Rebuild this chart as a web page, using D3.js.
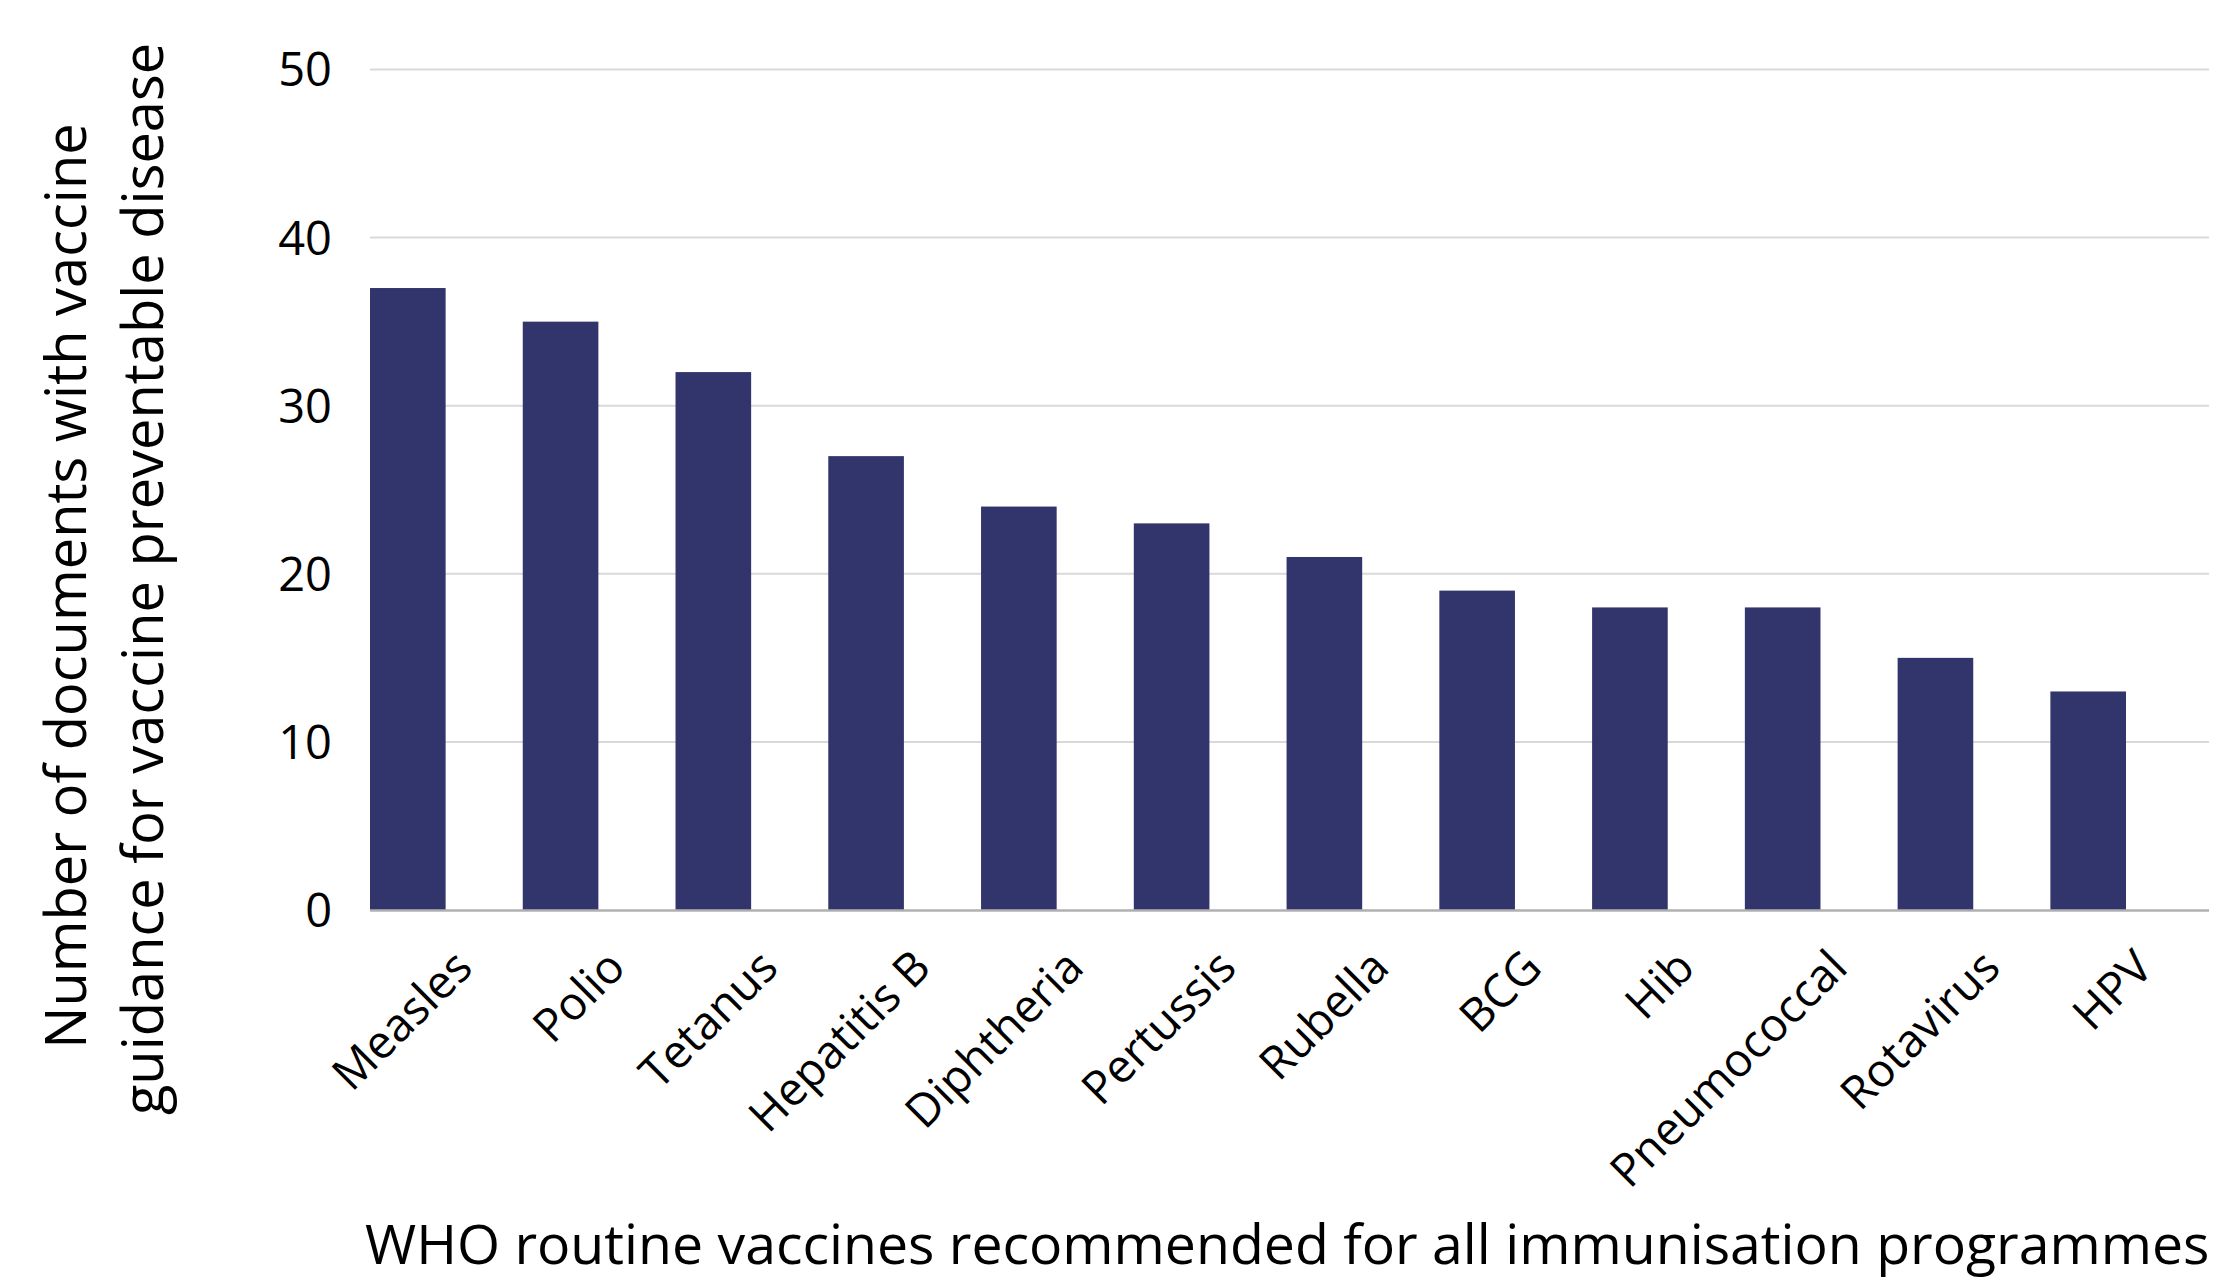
<!DOCTYPE html>
<html>
<head>
<meta charset="utf-8">
<script src="https://cdn.jsdelivr.net/npm/d3@7"></script>
<style>
  html, body { margin: 0; padding: 0; background: #ffffff; }
  svg { display: block; }
  text { font-family: "Open Sans", "Noto Sans", sans-serif; fill: #000000; }
</style>
</head>
<body>
<svg id="chart" width="2214" height="1281"></svg>
<script>
// Vaccines recommended by WHO for all immunisation programmes
const vaccines = ["Measles", "Polio", "Tetanus", "Hepatitis B", "Diphtheria", "Pertussis",
                  "Rubella", "BCG", "Hib", "Pneumococcal", "Rotavirus", "HPV"];
// Number of documents giving guidance for each vaccine preventable disease
const documentCounts = [37, 35, 32, 27, 24, 23, 21, 19, 18, 18, 15, 13];
const yTicks = [0, 10, 20, 30, 40, 50];

const yTitleLines = ["Number of documents with vaccine",
                     "guidance for vaccine preventable disease"];
const xTitle = "WHO routine vaccines recommended for all immunisation programmes";

const svg = d3.select("#chart");
const plotLeft = 370, plotRight = 2209, plotTop = 69.5, plotBottom = 910;

const x = d3.scaleBand()
  .domain(vaccines)
  .range([plotLeft, 2126])
  .paddingInner(0.505)
  .paddingOuter(0);

const y = d3.scaleLinear()
  .domain([0, 50])
  .range([plotBottom, plotTop]);

// horizontal gridlines
svg.append("g")
  .selectAll("line")
  .data(yTicks.filter(t => t > 0))
  .join("line")
  .attr("x1", plotLeft).attr("x2", plotRight)
  .attr("y1", d => y(d)).attr("y2", d => y(d))
  .attr("stroke", "#d9d9d9")
  .attr("stroke-width", 2);

// y tick labels
const yAxis = d3.axisLeft(y).tickValues(yTicks).tickSize(0).tickPadding(0).tickFormat(d3.format("d"));
const yg = svg.append("g")
  .attr("transform", `translate(332,0)`)
  .call(yAxis);
yg.select(".domain").remove();
yg.selectAll("text")
  .attr("font-family", "Open Sans")
  .attr("font-size", 47)
  .attr("fill", "#1a1a1a")
  .attr("dy", "0.35em");

// bars
svg.append("g")
  .selectAll("rect")
  .data(vaccines.map((v, i) => ({ name: v, value: documentCounts[i] })))
  .join("rect")
  .attr("x", d => x(d.name))
  .attr("width", x.bandwidth())
  .attr("y", d => y(d.value))
  .attr("height", d => y(0) - y(d.value))
  .attr("fill", "#31356b");

// baseline axis
svg.append("line")
  .attr("x1", plotLeft).attr("x2", plotRight)
  .attr("y1", y(0) + 0.5).attr("y2", y(0) + 0.5)
  .attr("stroke", "#b0b0b0")
  .attr("stroke-width", 2.5);

// rotated category labels
const xAxis = d3.axisBottom(x).tickSize(0).tickPadding(0);
const xg = svg.append("g")
  .attr("transform", `translate(0,${y(0)})`)
  .call(xAxis);
xg.select(".domain").remove();
xg.selectAll(".tick text")
  .attr("font-family", "Open Sans")
  .attr("font-size", 46)
  .attr("fill", "#000000")
  .attr("text-anchor", "end")
  .attr("y", 0)
  .attr("dy", 0)
  .attr("transform", "translate(67,60) rotate(-45)");

// x axis title
const xt = svg.append("text")
  .attr("x", 365)
  .attr("y", 1264)
  .attr("font-size", 48)
  .text(xTitle);
const xtLen = xt.node().getComputedTextLength();
xt.attr("font-size", 48 * 1845 / xtLen);

// y axis title (two lines)
const baselines = [86, 163];
const centers = [586, 579];
yTitleLines.forEach((line, i) => {
  svg.append("text")
    .attr("transform", `translate(${baselines[i]},${centers[i]}) rotate(-90)`)
    .attr("text-anchor", "middle")
    .attr("font-size", 56)
    .text(line);
});
</script>
</body>
</html>
